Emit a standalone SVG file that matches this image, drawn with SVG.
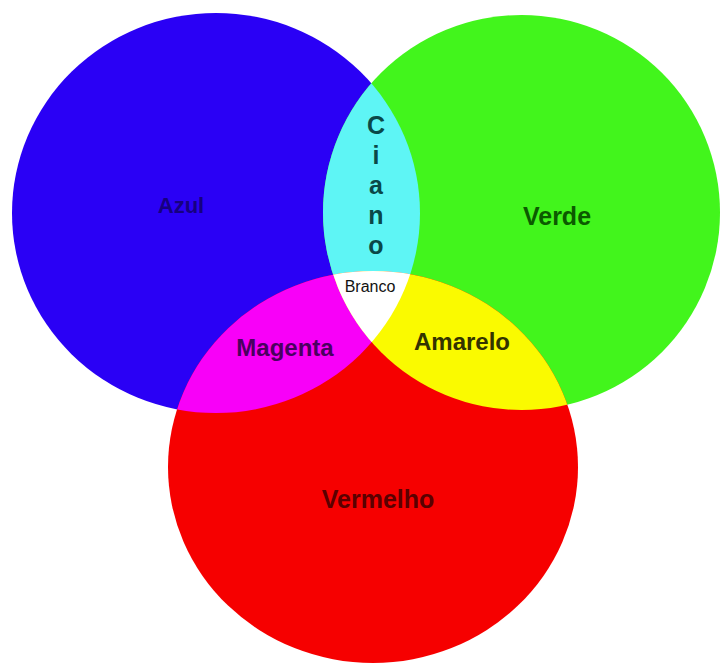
<svg xmlns="http://www.w3.org/2000/svg" width="720" height="663" viewBox="0 0 720 663">
<defs>
<clipPath id="cBlue"><ellipse cx="216" cy="213" rx="204" ry="200"/></clipPath>
<clipPath id="cGreen"><ellipse cx="521.5" cy="212.5" rx="198.5" ry="197.5"/></clipPath>
<style>
.t{font-family:"Liberation Sans",Arial,sans-serif;font-weight:bold;text-anchor:middle}
</style>
</defs>
<rect width="720" height="663" fill="#ffffff"/>
<g id="azul"><ellipse cx="216" cy="213" rx="204" ry="200" fill="#2a00f5"/></g>
<g id="verde"><ellipse cx="521.5" cy="212.5" rx="198.5" ry="197.5" fill="#42f51c"/></g>
<g id="vermelho"><ellipse cx="373" cy="467" rx="205" ry="196" fill="#f60000"/></g>
<g id="ciano"><ellipse cx="521.5" cy="212.5" rx="198.5" ry="197.5" fill="#5ef5f5" clip-path="url(#cBlue)"/></g>
<g id="magenta"><ellipse cx="373" cy="467" rx="205" ry="196" fill="#f800f8" clip-path="url(#cBlue)"/></g>
<g id="amarelo"><ellipse cx="373" cy="467" rx="205" ry="196" fill="#fafa00" clip-path="url(#cGreen)"/></g>
<g id="branco"><g clip-path="url(#cBlue)"><ellipse cx="373" cy="467" rx="205" ry="196" fill="#ffffff" clip-path="url(#cGreen)"/></g></g>
<g id="labels">
<text class="t" x="181" y="213" font-size="22" fill="#160080">Azul</text>
<text class="t" x="557" y="225" font-size="25" fill="#0b5a00">Verde</text>
<text class="t" x="376" y="134" font-size="25" fill="#0a4848">C</text>
<text class="t" x="376" y="164" font-size="25" fill="#0a4848">i</text>
<text class="t" x="376" y="194" font-size="25" fill="#0a4848">a</text>
<text class="t" x="376" y="224" font-size="25" fill="#0a4848">n</text>
<text class="t" x="376" y="254" font-size="25" fill="#0a4848">o</text>
<text x="370" y="292" font-family="Liberation Sans,Arial,sans-serif" font-size="16" text-anchor="middle" fill="#111111">Branco</text>
<text class="t" x="285" y="356" font-size="24" fill="#4a0060">Magenta</text>
<text class="t" x="462" y="350" font-size="24" fill="#333300">Amarelo</text>
<text class="t" x="378" y="508" font-size="25" fill="#5a0000">Vermelho</text>
</g>
</svg>
